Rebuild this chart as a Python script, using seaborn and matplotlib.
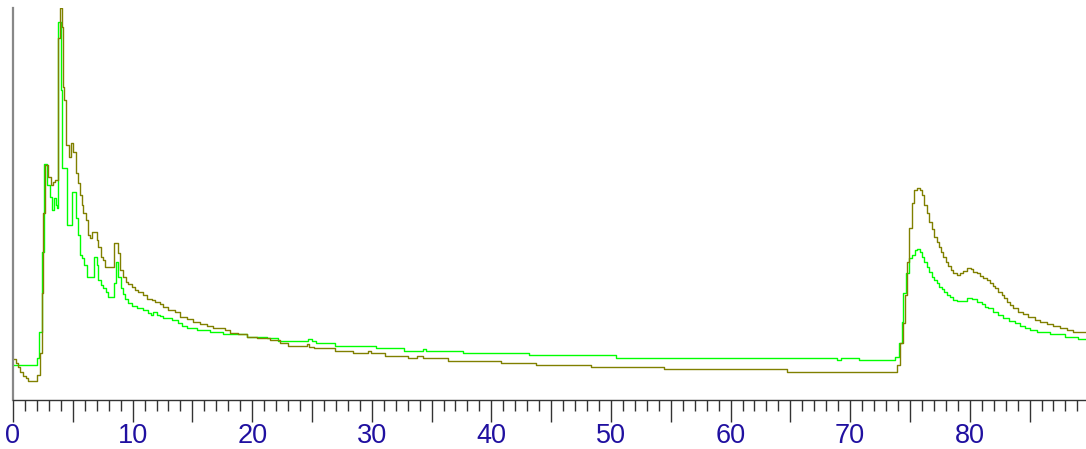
import matplotlib
matplotlib.use("Agg")
import matplotlib.pyplot as plt
import seaborn as sns
import pandas as pd
from matplotlib.ticker import MultipleLocator, FixedLocator

# olive trace (step change points)
olive_x = [0.00, 0.21, 0.42, 0.59, 0.84, 1.09, 1.25, 2.01, 2.26, 2.42, 2.55, 2.68, 2.95, 3.14, 3.32, 3.51,
           3.79, 3.93, 4.07, 4.21, 4.29, 4.43, 4.71, 4.82, 5.04, 5.24, 5.46, 5.60, 5.74, 5.88, 6.08, 6.25,
           6.44, 6.63, 7.00, 7.13, 7.33, 7.55, 7.69, 8.47, 8.75, 8.95, 9.22, 9.42, 9.62, 9.95, 10.20, 10.45,
           10.87, 11.20, 11.62, 11.87, 12.29, 12.54, 12.96, 13.55, 13.96, 14.55, 15.05, 15.64, 16.22, 16.72,
           17.73, 18.14, 18.81, 19.57, 20.40, 21.49, 22.32, 22.99, 24.56, 24.77, 25.17, 26.92, 28.45, 29.71,
           29.91, 31.10, 33.05, 33.81, 34.31, 36.40, 40.78, 43.73, 48.30, 54.43, 64.69, 73.94, 74.16, 74.39,
           74.58, 74.77, 74.94, 75.14, 75.33, 75.61, 75.84, 76.03, 76.20, 76.40, 76.59, 76.81, 77.01, 77.23,
           77.42, 77.59, 77.78, 77.98, 78.20, 78.40, 78.62, 78.90, 79.18, 79.46, 79.79, 80.08, 80.29, 80.63,
           80.85, 81.13, 81.41, 81.69, 81.91, 82.11, 82.38, 82.67, 82.86, 83.08, 83.36, 83.64, 84.06, 84.47,
           84.89, 85.45, 85.87, 86.43, 86.98, 87.54, 88.10, 88.65, 89.72]
olive_y = [10.5, 9.4, 8.4, 7.1, 6.1, 5.6, 4.8, 6.4, 12.0, 27.3, 47.7, 59.9, 56.9, 54.8, 55.6, 56.1,
           92.3, 100.0, 95.2, 79.8, 76.5, 65.1, 62.0, 65.6, 63.3, 57.9, 55.4, 52.3, 49.7, 47.7, 45.9, 42.1,
           41.3, 42.9, 40.8, 39.0, 36.5, 35.7, 33.9, 40.1, 37.5, 33.2, 31.4, 30.1, 29.6, 28.8, 28.1, 27.6,
           26.8, 25.8, 25.5, 25.0, 24.5, 23.7, 23.0, 22.4, 21.2, 20.7, 19.9, 19.4, 18.9, 18.4,
           17.9, 17.1, 16.8, 16.1, 15.8, 15.3, 14.5, 13.8, 14.3, 13.6, 13.3, 12.6, 12.0, 12.5,
           12.0, 11.3, 10.7, 11.3, 10.7, 10.0, 9.5, 8.9, 8.3, 7.8, 7.2, 8.9, 14.5, 19.6,
           26.8, 35.2, 43.9, 50.3, 53.6, 54.1, 53.6, 52.3, 49.7, 47.7, 45.4, 43.6, 41.6, 40.3,
           39.0, 37.8, 36.5, 35.2, 34.2, 33.2, 32.4, 31.9, 32.4, 32.9, 33.7, 33.4, 32.7, 32.4,
           31.6, 31.1, 30.6, 29.8, 29.1, 28.6, 27.6, 26.8, 26.0, 25.1, 24.2, 23.5, 22.5, 21.9,
           21.3, 20.4, 20.0, 19.4, 18.9, 18.3, 17.9, 17.4, 17.4]

# green trace (step change points)
green_x = [0.00, 2.03, 2.20, 2.40, 2.59, 2.88, 3.09, 3.26, 3.43, 3.60, 3.70, 3.79, 3.99, 4.12, 4.54, 4.91,
           5.24, 5.41, 5.60, 5.79, 5.96, 6.16, 6.80, 7.00, 7.13, 7.33, 7.55, 7.75, 7.97, 8.47, 8.59, 8.80,
           9.01, 9.17, 9.36, 9.64, 9.92, 10.34, 10.89, 11.31, 11.51, 11.73, 12.02, 12.29, 12.57, 13.27,
           13.82, 14.11, 14.52, 15.36, 16.47, 17.58, 19.54, 21.21, 22.18, 24.69, 24.97, 25.33, 26.92, 30.35,
           32.69, 34.31, 34.53, 37.65, 43.17, 50.42, 68.87, 69.21, 70.76, 73.75, 74.11, 74.31, 74.44, 74.67,
           74.94, 75.14, 75.42, 75.61, 75.84, 76.03, 76.20, 76.40, 76.59, 76.81, 77.01, 77.23, 77.42, 77.65,
           77.84, 78.07, 78.34, 78.62, 78.90, 79.74, 80.16, 80.63, 81.00, 81.27, 81.55, 81.91, 82.38, 82.80,
           83.30, 83.78, 84.20, 84.62, 85.03, 85.59, 86.71, 87.96, 89.07, 89.72]
green_y = [8.9, 10.7, 17.3, 37.8, 60.2, 54.8, 51.8, 48.5, 51.5, 49.7, 49.0, 96.4, 79.1, 59.2, 44.6, 53.1,
           46.4, 42.1, 37.0, 36.2, 34.4, 31.4, 36.5, 34.4, 30.6, 29.3, 28.6, 27.6, 26.3, 29.8, 35.2, 31.4,
           28.6, 27.0, 25.8, 24.8, 24.0, 23.4, 23.0, 22.3, 21.7, 22.5, 21.7, 21.4, 20.8, 20.4,
           19.7, 18.9, 18.3, 17.9, 17.4, 16.8, 16.1, 15.7, 15.1, 15.6, 15.1, 14.5, 13.8, 13.2,
           12.5, 12.9, 12.6, 11.9, 11.4, 10.6, 10.2, 10.6, 10.2, 11.0, 14.5, 20.0, 27.3, 32.3,
           36.1, 37.0, 38.3, 38.4, 37.8, 36.6, 35.3, 33.9, 32.7, 31.5, 30.6, 29.8, 28.9, 28.2,
           27.6, 26.8, 26.2, 25.5, 25.3, 25.9, 25.7, 25.1, 24.5, 23.8, 23.4, 22.5, 21.7, 20.8,
           20.2, 19.6, 18.9, 18.3, 17.9, 17.4, 16.8, 16.1, 15.6, 15.6]

df = pd.concat([
    pd.DataFrame({"x": green_x, "y": green_y, "trace": "green"}),
    pd.DataFrame({"x": olive_x, "y": olive_y, "trace": "olive"}),
], ignore_index=True)

sns.set_theme(style="white")
plt.rcParams['font.family'] = ['Liberation Sans', 'DejaVu Sans']

fig = plt.figure(figsize=(10.86, 4.49), dpi=100)
ax = fig.add_axes([13 / 1086, 49 / 449, 1 - 13 / 1086, 392 / 449])

sns.lineplot(data=df, x="x", y="y", hue="trace", hue_order=["green", "olive"],
             palette={"green": "#00ff00", "olive": "#808000"}, drawstyle="steps-post",
             estimator=None, sort=False, linewidth=1.0, legend=False, ax=ax)

ax.set_xlim(0, 89.72)
ax.set_ylim(0, 100)
ax.set_xlabel("")
ax.set_ylabel("")
ax.set_yticks([])

major = list(range(0, 90, 5))
ax.xaxis.set_major_locator(FixedLocator(major))
ax.set_xticklabels([str(v) if v % 10 == 0 else "" for v in major])
ax.xaxis.set_minor_locator(MultipleLocator(1))
ax.tick_params(axis="x", which="major", bottom=True, length=16, width=1, color="#333333",
               labelsize=19.5, labelcolor="#2010a0", pad=0.5)
ax.tick_params(axis="x", which="minor", bottom=True, length=8, width=1, color="#333333")

sns.despine(ax=ax, top=True, right=True)
ax.spines["left"].set_color("#888888")
ax.spines["left"].set_linewidth(1.6)
ax.spines["bottom"].set_color("#333333")
ax.spines["bottom"].set_linewidth(1.0)

fig.savefig("out.png", dpi=100)
